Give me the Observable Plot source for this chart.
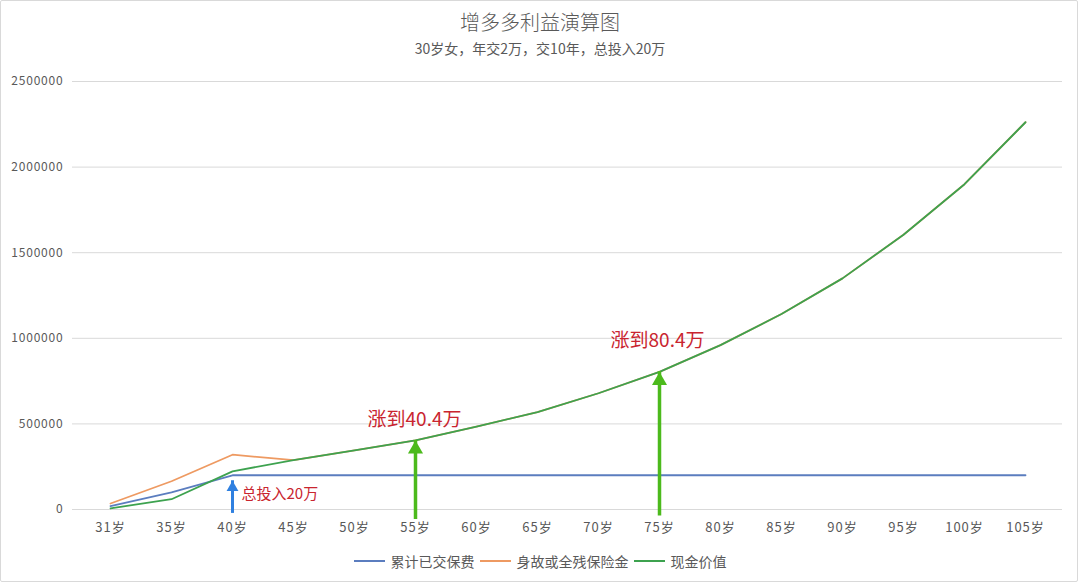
<!DOCTYPE html>
<html><head><meta charset="utf-8">
<script src="https://cdn.jsdelivr.net/npm/d3@7"></script>
<script src="https://cdn.jsdelivr.net/npm/@observablehq/plot@0.6"></script>
<style>
body{margin:0;background:#fff;font-family:"Noto Sans CJK SC","Noto Sans",sans-serif;}
#wrap{position:relative;width:1080px;height:585px;overflow:hidden;background:#fff;}
#frame{position:absolute;left:0;top:0;width:1076px;height:580px;border:1px solid #d9d9d9;border-radius:2px;}
#title{position:absolute;top:8px;left:0;width:1080px;text-align:center;font-size:20px;line-height:28px;color:#595959;font-weight:300;}
#subtitle{position:absolute;top:38px;left:0;width:1080px;text-align:center;font-size:14px;line-height:20px;color:#595959;}
#chart{position:absolute;top:62px;left:0;}
#legend{position:absolute;top:551px;left:0;width:1080px;display:flex;justify-content:center;font-size:14px;line-height:20px;color:#595959;}
.item{display:flex;align-items:center;margin:0 2.5px;}
.sw{display:inline-block;width:31px;height:2px;margin-right:6px;}
#chart svg g[aria-label="y-axis tick label"] text{letter-spacing:0.8px;}
#chart svg g[aria-label="x-axis tick label"] text{letter-spacing:1px;}
</style></head>
<body><div id="wrap"><div id="frame"></div>
<div id="title"></div><div id="subtitle"></div><div id="chart"></div><div id="legend"></div></div>
<script>
const titleText = "增多多利益演算图";
const subtitleText = "30岁女，年交2万，交10年，总投入20万";
const ages = ["31岁","35岁","40岁","45岁","50岁","55岁","60岁","65岁","70岁","75岁","80岁","85岁","90岁","95岁","100岁","105岁"];
const seriesNames = ["累计已交保费","身故或全残保险金","现金价值"];
const seriesColors = ["#5b7dbf","#ee9a62","#3da24f"];
const paid = [20000,100000,200000,200000,200000,200000,200000,200000,200000,200000,200000,200000,200000,200000,200000,200000];
const benefit = [35000,165000,320000,288000,346000,404000,484000,569000,679000,804000,960000,1142000,1350000,1605000,1900000,2262000];
const cash = [6000,60000,223000,288000,346000,404000,484000,569000,679000,804000,960000,1142000,1350000,1605000,1900000,2262000];
const yTicks = [0,500000,1000000,1500000,2000000,2500000];
// annotations
const arrowAges = ["40岁","55岁","75岁"];
const arrowFrom = [18000,0,20000];
const arrowTo = [168000,404000,804000];
const arrowKinds = ["blue","green","green"];
const noteAges = ["40岁","55岁","75岁"];
const noteValues = [88000,404000,804000];
const noteTexts = ["总投入20万","涨到40.4万","涨到80.4万"];

document.getElementById("title").textContent = titleText;
document.getElementById("subtitle").textContent = subtitleText;

const seriesValues = [paid, benefit, cash];
const rows = seriesNames.flatMap((s, i) => ages.map((a, j) => ({series: s, age: a, value: seriesValues[i][j]})));
const arrows = arrowAges.map((a, i) => ({age: a, from: arrowFrom[i], to: arrowTo[i], kind: arrowKinds[i]}));
const notes = noteAges.map((a, i) => ({age: a, value: noteValues[i], text: noteTexts[i]}));

const blueA = arrows.filter(d => d.kind === "blue");
const greenA = arrows.filter(d => d.kind === "green");

const chart = Plot.plot({
  width: 1080, height: 483,
  marginTop: 19, marginBottom: 36, marginLeft: 72, marginRight: 18,
  style: {fontFamily: '"Noto Sans CJK SC","Noto Sans",sans-serif', fontSize: "12px", color: "#595959", background: "transparent"},
  x: {type: "point", domain: ages, padding: 0.5},
  y: {domain: [0, 2500000]},
  color: {domain: seriesNames, range: seriesColors},
  marks: [
    Plot.ruleY(yTicks, {stroke: "#d9d9d9", strokeWidth: 1}),
    Plot.axisY(yTicks, {tickSize: 0, tickPadding: 9, tickFormat: d3.format("d"), label: null, fontSize: 12}),
    Plot.axisX({tickSize: 0, tickPadding: 13, label: null, fontSize: 13}),
    Plot.line(rows, {x: "age", y: "value", z: "series", stroke: "series", strokeWidth: 1.8}),
    Plot.ruleX(blueA, {x: "age", y1: "from", y2: "to", stroke: "#2f80e0", strokeWidth: 3, insetTop: 7}),
    Plot.dot(blueA, {x: "age", y: "to", symbol: "triangle", r: 4.4, fill: "#2f80e0", stroke: null, dy: 6.8}),
    Plot.ruleX(greenA, {x: "age", y1: "from", y2: "to", stroke: "#4cba1c", strokeWidth: 3.5, insetTop: 10}),
    Plot.dot(greenA, {x: "age", y: "to", symbol: "triangle", r: 5.6, fill: "#4cba1c", stroke: null, dy: 8.8}),
    Plot.text(notes.slice(0, 1), {x: "age", y: "value", text: "text", textAnchor: "start", dx: 9, fill: "#c9252f", fontSize: 15}),
    Plot.text(notes.slice(1, 2), {x: "age", y: "value", text: "text", dy: -20, dx: -1, fill: "#c9252f", fontSize: 19}),
    Plot.text(notes.slice(2), {x: "age", y: "value", text: "text", dy: -31, dx: -2, fill: "#c9252f", fontSize: 19})
  ]
});
document.getElementById("chart").appendChild(chart);

const legend = document.getElementById("legend");
seriesNames.forEach((s, i) => {
  const it = document.createElement("div"); it.className = "item";
  const sw = document.createElement("span"); sw.className = "sw"; sw.style.background = seriesColors[i];
  const tx = document.createElement("span"); tx.textContent = s;
  it.appendChild(sw); it.appendChild(tx); legend.appendChild(it);
});
</script></body></html>
